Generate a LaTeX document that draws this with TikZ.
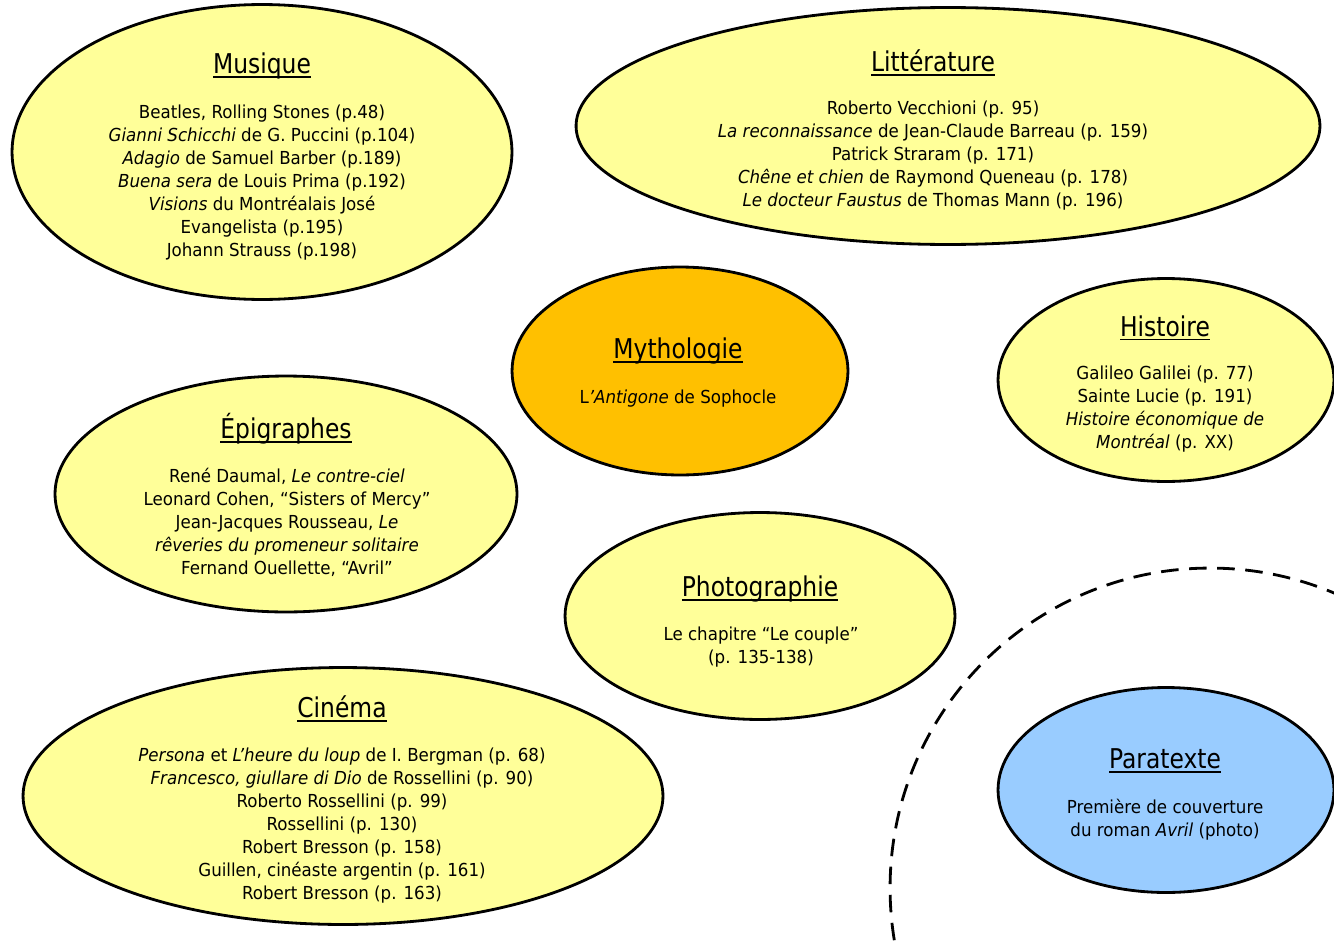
\documentclass[tikz,border=0pt]{standalone}
\usepackage{fontspec}
\setmainfont{DejaVu Sans}[FakeStretch=0.93]
\newfontfamily\titrefont{DejaVu Sans}[FakeStretch=0.86]
\newcommand\souligne[1]{\setbox0\hbox{#1}\rlap{\rule[-2.4pt]{\wd0}{1pt}}\box0}
\usetikzlibrary{shapes.geometric}
\definecolor{jaune}{HTML}{FFFF99}
\definecolor{mythe}{HTML}{FFC000}
\definecolor{bleu}{HTML}{99CCFF}
\tikzset{x=0.02cm, y=-0.02cm, % one unit = one pixel of the page
bulle/.style={ % Sets the properties for each ellipse
ellipse,
draw,
line width=1.6pt,
fill=jaune},
titre/.style={ % Underlined heading of each ellipse
inner sep=0pt,
font=\titrefont\fontsize{15.5}{18}\selectfont},
corps/.style={ % Lines under the heading
align=center,
anchor=north,
inner sep=0pt,
font=\fontsize{10.2}{13}\selectfont},
pointille/.style={ % Dashed circle round the paratext
line width=1.6pt,
dash pattern=on 10pt off 6pt}}

\begin{document}
\begin{tikzpicture}
	\useasboundingbox (0,0) rectangle (1334,946);
	\coordinate (centre) at (1210,888);
	\draw[pointille] (centre) circle[radius=6.4cm];

	\node[bulle, minimum width=10cm, minimum height=5.9cm] (musique) at (262,152) {};
	\node[titre] (musiqueT) at (262,66) {\souligne{Musique}};
	\node[corps] (musiqueC) at (262,105) {Beatles, Rolling Stones (p.48)\\
		\textit{Gianni Schicchi} de G. Puccini (p.104)\\
		\textit{Adagio} de Samuel Barber (p.189)\\
		\textit{Buena sera} de Louis Prima (p.192)\\
		\textit{Visions} du Montréalais José\\
		Evangelista (p.195)\\
		Johann Strauss (p.198)};

	\node[bulle, minimum width=14.88cm, minimum height=4.74cm] (litterature) at (948,126) {};
	\node[titre] (litteratureT) at (933,63) {\souligne{Littérature}};
	\node[corps] (litteratureC) at (933,101) {Roberto Vecchioni (p. 95)\\
		\textit{La reconnaissance} de Jean-Claude Barreau (p. 159)\\
		Patrick Straram (p. 171)\\
		\textit{Chêne et chien} de Raymond Queneau (p. 178)\\
		\textit{Le docteur Faustus} de Thomas Mann (p. 196)};

	\node[bulle, fill=mythe, minimum width=6.72cm, minimum height=4.16cm] (mythologie) at (680,371) {};
	\node[titre] (mythologieT) at (678,351) {\souligne{Mythologie}};
	\node[corps] (mythologieC) at (678,390) {L\textit{’Antigone} de Sophocle};

	\node[bulle, minimum width=6.72cm, minimum height=4.06cm] (histoire) at (1166,380) {};
	\node[titre] (histoireT) at (1165,328) {\souligne{Histoire}};
	\node[corps] (histoireC) at (1165,366) {Galileo Galilei (p. 77)\\
		Sainte Lucie (p. 191)\\
		\textit{Histoire économique de}\\
		\textit{Montréal} (p. XX)};

	\node[bulle, minimum width=9.24cm, minimum height=4.72cm] (epigraphes) at (286,494) {};
	\node[titre] (epigraphesT) at (286,429) {\souligne{Épigraphes}};
	\node[corps] (epigraphesC) at (287,468) {René Daumal, \textit{Le contre-ciel}\\
		Leonard Cohen, “Sisters of Mercy”\\
		Jean-Jacques Rousseau, \textit{Le}\\
		\textit{rêveries du promeneur solitaire}\\
		Fernand Ouellette, “Avril”};

	\node[bulle, minimum width=7.8cm, minimum height=4.14cm] (photographie) at (760,616) {};
	\node[titre] (photographieT) at (760,589) {\souligne{Photographie}};
	\node[corps] (photographieC) at (761,627) {Le chapitre “Le couple”\\
		(p. 135-138)};

	\node[bulle, minimum width=12.8cm, minimum height=5.14cm] (cinema) at (343,796) {};
	\node[titre] (cinemaT) at (342,709) {\souligne{Cinéma}};
	\node[corps] (cinemaC) at (342,748) {\textit{Persona} et \textit{L’heure du loup} de I. Bergman (p. 68)\\
		\textit{Francesco, giullare di Dio} de Rossellini (p. 90)\\
		Roberto Rossellini (p. 99)\\
		Rossellini (p. 130)\\
		Robert Bresson (p. 158)\\
		Guillen, cinéaste argentin (p. 161)\\
		Robert Bresson (p. 163)};

	\node[bulle, fill=bleu, minimum width=6.72cm, minimum height=4.1cm] (paratexte) at (1166,790) {};
	\node[titre] (paratexteT) at (1165,761) {\souligne{Paratexte}};
	\node[corps] (paratexteC) at (1165,799) {Première de couverture\\
		du roman \textit{Avril} (photo)};
\end{tikzpicture}
\end{document}
